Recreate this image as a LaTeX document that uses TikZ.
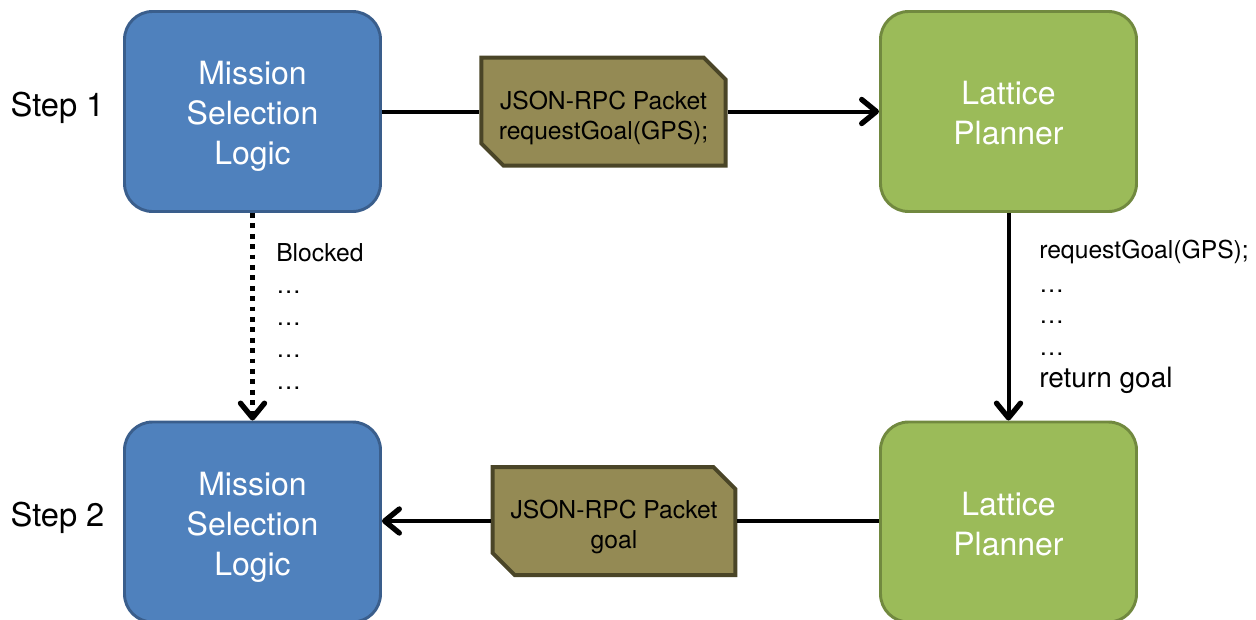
\documentclass[tikz,border=0pt]{standalone}
\usepackage{fontspec}
\setmainfont{TeX Gyre Heros}
\usetikzlibrary{arrows.meta,shapes.misc}
\definecolor{bluefill}{HTML}{4F81BD}
\definecolor{blueline}{HTML}{3A5E8C}
\definecolor{greenfill}{HTML}{9BBB59}
\definecolor{greenline}{HTML}{71893F}
\definecolor{olivefill}{HTML}{948A54}
\definecolor{oliveline}{HTML}{4A4527}
\newcommand\mytopstrut[1]{\rule{0pt}{#1}}
\tikzset{
  x=0.75pt, y=-0.75pt,
  proc/.style={rounded corners=21pt, line width=2.2pt, minimum width=192pt, minimum height=150pt,
    align=center, text=white, font=\fontsize{24}{30}\selectfont, inner sep=0pt},
  bluebox/.style={proc, fill=bluefill, draw=blueline},
  greenbox/.style={proc, fill=greenfill, draw=greenline},
  packet/.style={chamfered rectangle, chamfered rectangle corners={north east,south west},
    chamfered rectangle xsep=13pt, chamfered rectangle angle=45,
    fill=olivefill, draw=oliveline, line width=3pt, minimum width=182pt, minimum height=81pt,
    inner sep=0pt, align=center, font=\fontsize{18.5}{22.5}\selectfont},
  tip/.style={-{Straight Barb[length=11pt,width=18pt,line width=4pt,round]}},
  conn/.style={line width=3pt, tip},
  lbl/.style={anchor=west, inner sep=0pt, font=\fontsize{18.5}{22}\selectfont},
  steplbl/.style={inner sep=0pt, font=\fontsize{24.5}{28}\selectfont}
}
\begin{document}
\begin{tikzpicture}
\useasboundingbox (0,0) rectangle (1256,619);
\clip (0,0) rectangle (1256,619);
\node[bluebox] (msl1) at (252.5,111.5) {\mytopstrut{25pt}Mission\\Selection\\Logic};
\node[greenbox] (lp1) at (1008.5,111.5) {\mytopstrut{20pt}Lattice\\Planner};
\node[bluebox] (msl2) at (252.5,522) {\mytopstrut{25pt}Mission\\Selection\\Logic};
\node[greenbox] (lp2) at (1008.5,522) {\mytopstrut{20pt}Lattice\\Planner};
\node[packet] (pk1) at (603.5,111.5) {\mytopstrut{23pt}JSON-RPC Packet\\requestGoal(GPS);};
\node[packet] (pk2) at (614,521) {\mytopstrut{23pt}JSON-RPC Packet\\goal};
\node[steplbl] (s1) at (57.5,108) {Step 1};
\node[steplbl] (s2) at (57.5,518) {Step 2};

\draw[line width=3pt] (msl1.east |- pk1.west) -- (pk1.west);
\draw[conn] (pk1.east) -- (lp1.west |- pk1.east);
\draw[line width=3pt] (lp2.west |- pk2.east) -- (pk2.east);
\draw[conn] (pk2.west) -- (msl2.east |- pk2.west);
\draw[line width=3.6pt, dash pattern=on 3.6pt off 4.2pt, tip] (msl1.south) -- (msl2.north);
\draw[conn] (lp1.south) -- (lp2.north);

\node[lbl] (b0) at (276,253) {Blocked};
\node[lbl] (b1) at (276,292) {…};
\node[lbl] (b2) at (276,324) {…};
\node[lbl] (b3) at (276,356) {…};
\node[lbl] (b4) at (276,388) {…};
\node[lbl] (r0) at (1039,252) {requestGoal(GPS);};
\node[lbl] (r1) at (1039,291) {…};
\node[lbl] (r2) at (1039,322) {…};
\node[lbl] (r3) at (1039,354) {…};
\node[lbl, font=\fontsize{21}{25}\selectfont] (r4) at (1039,380) {return goal};
\end{tikzpicture}
\end{document}
